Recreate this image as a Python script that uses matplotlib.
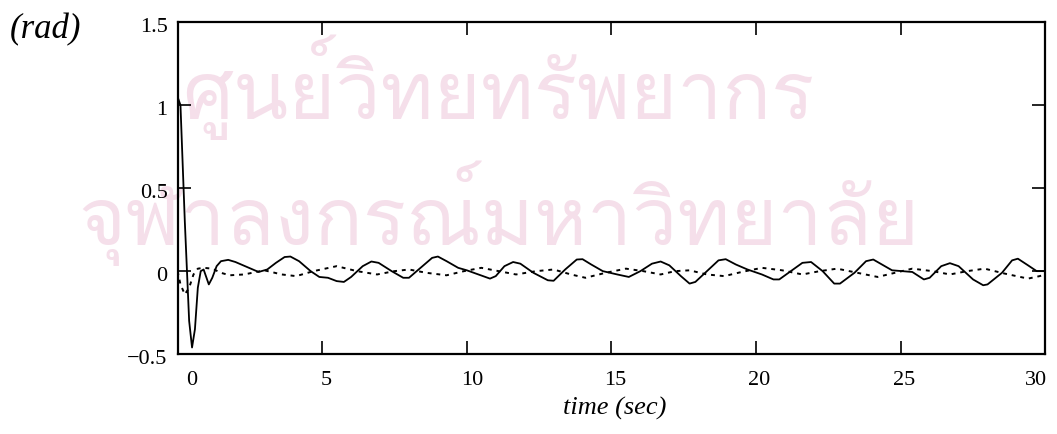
import matplotlib
matplotlib.use('Agg')
import matplotlib.pyplot as plt
import matplotlib.transforms as mtransforms
from matplotlib import font_manager
from matplotlib.ft2font import FT2Font

# solid curve (rad)
t_solid = [0, 0.1, 0.25, 0.4, 0.5, 0.6, 0.7, 0.8, 0.9, 1.0, 1.08, 1.2, 1.35, 1.5, 1.75,
           2.0, 2.4, 2.8, 3.1, 3.4, 3.7, 3.9, 4.2, 4.6, 4.9, 5.2, 5.5, 5.75, 6.0, 6.4,
           6.7, 6.95, 7.4, 7.8, 8.0, 8.4, 8.8, 9.0, 9.3, 9.7, 10.0, 10.4, 10.8, 11.0,
           11.3, 11.6, 11.85, 12.3, 12.8, 13.0, 13.4, 13.8, 14.0, 14.3, 14.7, 15.2, 15.6,
           16.0, 16.4, 16.7, 17.0, 17.4, 17.7, 17.9, 18.3, 18.7, 18.95, 19.3, 19.7, 20.2,
           20.6, 20.8, 21.2, 21.6, 21.9, 22.3, 22.7, 22.9, 23.4, 23.8, 24.05, 24.4, 24.7,
           25.4, 25.8, 26.0, 26.4, 26.7, 27.0, 27.5, 27.85, 28.0, 28.5, 28.85, 29.05,
           29.4, 29.7, 30.0]
y_solid = [1.05, 1.0, 0.3, -0.3, -0.46, -0.35, -0.1, 0.0, 0.01, -0.04, -0.08, -0.04, 0.03,
           0.06, 0.068, 0.055, 0.025, -0.005, 0.01, 0.05, 0.085, 0.088, 0.06, 0.0, -0.035,
           -0.04, -0.06, -0.065, -0.035, 0.03, 0.058, 0.05, 0.0, -0.04, -0.04, 0.02, 0.08,
           0.088, 0.06, 0.02, 0.005, -0.02, -0.045, -0.03, 0.03, 0.055, 0.045, -0.01,
           -0.055, -0.058, 0.01, 0.07, 0.072, 0.04, 0.0, -0.02, -0.035, 0.0, 0.045, 0.058,
           0.035, -0.03, -0.075, -0.065, 0.0, 0.065, 0.072, 0.04, 0.01, -0.02, -0.05, -0.05,
           0.0, 0.05, 0.055, 0.0, -0.075, -0.075, -0.01, 0.06, 0.07, 0.035, 0.005, -0.005,
           -0.05, -0.04, 0.03, 0.048, 0.03, -0.05, -0.085, -0.08, -0.01, 0.065, 0.075,
           0.035, 0.0, 0.0]

# dotted curve
t_dot = [0, 0.1, 0.25, 0.4, 0.55, 0.7, 0.9, 1.2, 1.5, 1.8, 2.3, 3.0, 3.6, 4.1, 4.7, 5.5,
         6.2, 6.9, 7.5, 8.0, 8.6, 9.3, 9.9, 10.5, 11.1, 11.7, 12.4, 13.0, 13.6, 14.1, 14.8,
         15.5, 16.1, 16.7, 17.2, 17.7, 18.3, 18.9, 19.5, 20.2, 20.9, 21.6, 22.2, 22.8,
         23.5, 24.2, 24.8, 25.4, 26.1, 26.7, 27.3, 27.9, 28.6, 29.4, 29.8, 30.0]
y_dot = [0.0, -0.08, -0.14, -0.1, -0.02, 0.015, 0.02, 0.015, -0.01, -0.025, -0.02, 0.005,
         -0.02, -0.03, 0.0, 0.03, 0.0, -0.02, 0.0, 0.01, -0.01, -0.025, 0.0, 0.02, 0.0,
         -0.02, 0.0, 0.01, -0.02, -0.04, -0.01, 0.015, 0.0, -0.02, 0.0, 0.005, -0.02,
         -0.03, -0.005, 0.02, 0.005, -0.02, 0.0, 0.015, -0.01, -0.035, -0.01, 0.015, 0.0,
         -0.02, 0.0, 0.015, -0.015, -0.045, -0.03, -0.02]

x_ticks = [0, 5, 10, 15, 20, 25, 30]
x_ticklabels = ['0', '5', '10', '15', '20', '25', '30']
y_ticks = [-0.5, 0, 0.5, 1, 1.5]
y_ticklabels = ['\u22120.5', '0', '0.5', '1', '1.5']
watermark = ['ศูนย์วิทยทรัพยากร', 'จุฬาลงกรณ์มหาวิทยาลัย']

# label nudges in pixels, like the Mathcad layout
x_label_shift = [14, 4, 5, 4, 3, 3, -9]

plt.rcParams['font.family'] = ['Liberation Serif', 'DejaVu Serif']

fig = plt.figure(figsize=(10.57, 4.34), dpi=100)
ax = fig.add_axes([0.168, 0.184, 0.821, 0.765])

# watermark, only if some installed font has Thai glyphs
thai_font = None
for f in font_manager.fontManager.ttflist:
    try:
        if FT2Font(f.fname).get_char_index(ord('ก')):
            thai_font = f.name
            break
    except Exception:
        pass
if thai_font:
    ax.text(0.37, 0.805, watermark[0], transform=ax.transAxes, fontsize=58, color='#f5dfea',
            ha='center', va='center', family=thai_font, zorder=0)
    ax.text(0.37, 0.425, watermark[1], transform=ax.transAxes, fontsize=58, color='#f5dfea',
            ha='center', va='center', family=thai_font, zorder=0)

ax.plot(t_solid, y_solid, color='black', linewidth=1.3)
ax.plot(t_dot, y_dot, color='black', linewidth=1.4, linestyle=(0, (2, 2.5)))

ax.set_xlim(0, 30)
ax.set_ylim(-0.5, 1.5)
ax.set_xticks(x_ticks)
ax.set_yticks(y_ticks)
ax.tick_params(direction='in', length=9.5, width=1.2, top=True, right=True,
               labelbottom=False, labelleft=False)
for s in ax.spines.values():
    s.set_linewidth(1.6)

# tick labels drawn as text so they can sit where the scan has them
for x, lab, dx in zip(x_ticks, x_ticklabels, x_label_shift):
    tr = ax.get_xaxis_transform() + mtransforms.ScaledTranslation(dx / 100, -26 / 100, fig.dpi_scale_trans)
    ax.text(x, 0, lab, transform=tr, ha='center', va='center', fontsize=16)
for y, lab in zip(y_ticks, y_ticklabels):
    tr = ax.get_yaxis_transform() + mtransforms.ScaledTranslation(-10 / 100, -5 / 100, fig.dpi_scale_trans)
    ax.text(0, y, lab, transform=tr, ha='right', va='center', fontsize=16)

fig.text(615 / 1057, 1 - 408 / 434, 'time (sec)', fontsize=19, style='italic',
         ha='center', va='center')
fig.text(0.0095, 0.931, '(rad)', fontsize=25, style='italic', ha='left', va='center')

fig.savefig('out.png', dpi=100)
